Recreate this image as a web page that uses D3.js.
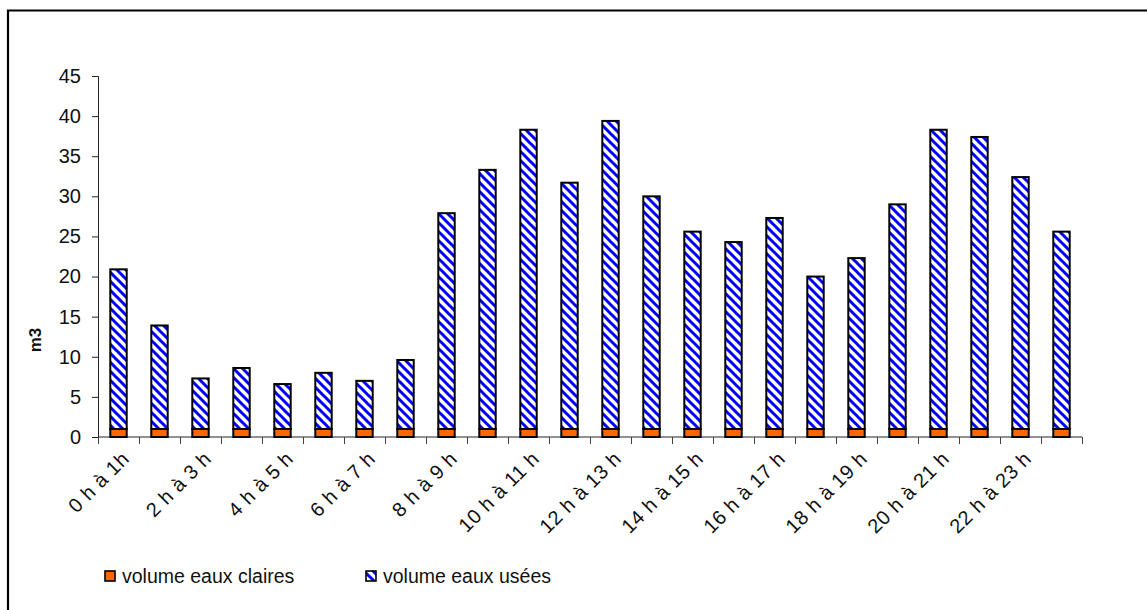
<!DOCTYPE html>
<html>
<head>
<meta charset="utf-8">
<script src="https://cdn.jsdelivr.net/npm/d3@7"></script>
<style>
  html, body { margin: 0; padding: 0; background: #fff; }
  svg { display: block; font-family: Arial, "Liberation Sans", sans-serif; }
</style>
</head>
<body>
<svg id="chart" width="1147" height="610"></svg>
<script>
// Hourly categories (one per hour slot)
const hours = [
  "0 h à 1h", "1 h à 2 h", "2 h à 3 h", "3 h à 4 h", "4 h à 5 h", "5 h à 6 h",
  "6 h à 7 h", "7 h à 8 h", "8 h à 9 h", "9 h à 10 h", "10 h à 11 h", "11 h à 12 h",
  "12 h à 13 h", "13 h à 14 h", "14 h à 15 h", "15 h à 16 h", "16 h à 17 h", "17 h à 18 h",
  "18 h à 19 h", "19 h à 20 h", "20 h à 21 h", "21 h à 22 h", "22 h à 23 h", "23 h à 24 h"
];
// Clear water volume (m3)
const eauxClaires = [1, 1, 1, 1, 1, 1, 1, 1, 1, 1, 1, 1, 1, 1, 1, 1, 1, 1, 1, 1, 1, 1, 1, 1];
// Waste water volume (m3)
const eauxUsees = [19.9, 12.9, 6.3, 7.6, 5.6, 7.0, 6.0, 8.6, 26.9, 32.3, 37.3, 30.7,
                   38.4, 29.0, 24.6, 23.3, 26.3, 19.0, 21.3, 28.0, 37.3, 36.4, 31.4, 24.6];
const yTicks = [0, 5, 10, 15, 20, 25, 30, 35, 40, 45];
const seriesNames = ["volume eaux claires", "volume eaux usées"];

const svg = d3.select("#chart");

// hatch pattern for the waste-water series
const P = 9;
const defs = svg.append("defs");
const pat = defs.append("pattern")
  .attr("id", "hatch")
  .attr("patternUnits", "userSpaceOnUse")
  .attr("width", P).attr("height", P);
pat.append("rect").attr("width", P).attr("height", P).attr("fill", "#fff");
pat.append("path")
  .attr("d", `M-2,-2 L${P + 2},${P + 2} M-2,${P - 2} L2,${P + 2} M${P - 2},-2 L${P + 2},2`)
  .attr("stroke", "#0000ff").attr("stroke-width", 3).attr("fill", "none");

// outer frame
svg.append("path")
  .attr("d", "M8,620 L8,10.5 L1160,10.5")
  .attr("fill", "none").attr("stroke", "#000").attr("stroke-width", 2.2);

const x = d3.scaleBand().domain(hours).range([98, 1082]).paddingInner(0.6).paddingOuter(0.3);
const y = d3.scaleLinear().domain([0, 45]).range([437, 76]);

const stacked = hours.map((h, i) => ({
  h, c: eauxClaires[i], u: eauxUsees[i]
}));

// y axis
const yAxis = svg.append("g").attr("transform", "translate(98,0)")
  .call(d3.axisLeft(y).tickValues(yTicks).tickSize(6).tickPadding(11));
yAxis.select(".domain").attr("stroke", "#222");
yAxis.selectAll(".tick line").attr("stroke", "#222");
yAxis.selectAll("text").attr("font-size", 20).attr("fill", "#111")
  .attr("font-family", "Arial, 'Liberation Sans', sans-serif");

// x axis: ticks on band boundaries
const xAxisG = svg.append("g").attr("transform", "translate(0,437)");
xAxisG.append("line").attr("x1", 98).attr("x2", 1082).attr("y1", 0).attr("y2", 0)
  .attr("stroke", "#222");
const bounds = hours.map(h => x(h) - x.step() * x.paddingInner() / 2).concat([1082]);
xAxisG.selectAll("line.tk").data(bounds).join("line")
  .attr("class", "tk")
  .attr("x1", d => Math.round(d) + 0.5).attr("x2", d => Math.round(d) + 0.5)
  .attr("y1", 0).attr("y2", 7).attr("stroke", "#444");

xAxisG.selectAll("text.lbl").data(hours.filter((d, i) => i % 2 === 0)).join("text")
  .attr("class", "lbl")
  .attr("text-anchor", "end")
  .attr("font-size", 20)
  .attr("letter-spacing", 0.5)
  .attr("fill", "#111")
  .attr("transform", d => `translate(${x(d) + x.bandwidth() / 2 + 7},18) rotate(-45)`)
  .attr("dy", "0.35em")
  .text(d => d);

// bars
const barG = svg.append("g");
barG.selectAll("rect.c").data(stacked).join("rect")
  .attr("class", "c")
  .attr("x", d => x(d.h)).attr("width", x.bandwidth())
  .attr("y", d => y(d.c)).attr("height", d => y(0) - y(d.c))
  .attr("fill", "#ff6600").attr("stroke", "#000").attr("stroke-width", 2);
barG.selectAll("rect.u").data(stacked).join("rect")
  .attr("class", "u")
  .attr("x", d => x(d.h)).attr("width", x.bandwidth())
  .attr("y", d => y(d.c + d.u)).attr("height", d => y(d.c) - y(d.c + d.u))
  .attr("fill", "url(#hatch)").attr("stroke", "#000").attr("stroke-width", 2);

// y axis title
svg.append("text")
  .attr("transform", "translate(41,340) rotate(-90)")
  .attr("text-anchor", "middle")
  .attr("font-size", 17).attr("font-weight", "bold").attr("fill", "#111")
  .text("m3");

// legend
const legendX = [105, 366];
const legendFill = ["#ff6600", "url(#hatch)"];
const lg = svg.append("g");
lg.selectAll("rect").data(seriesNames).join("rect")
  .attr("x", (d, i) => legendX[i]).attr("y", 571)
  .attr("width", 10).attr("height", 10)
  .attr("fill", (d, i) => legendFill[i]).attr("stroke", "#000").attr("stroke-width", 1.6);
lg.selectAll("text").data(seriesNames).join("text")
  .attr("x", (d, i) => legendX[i] + 17).attr("y", 583)
  .attr("font-size", 19.5).attr("fill", "#111")
  .text(d => d);
</script>
</body>
</html>
